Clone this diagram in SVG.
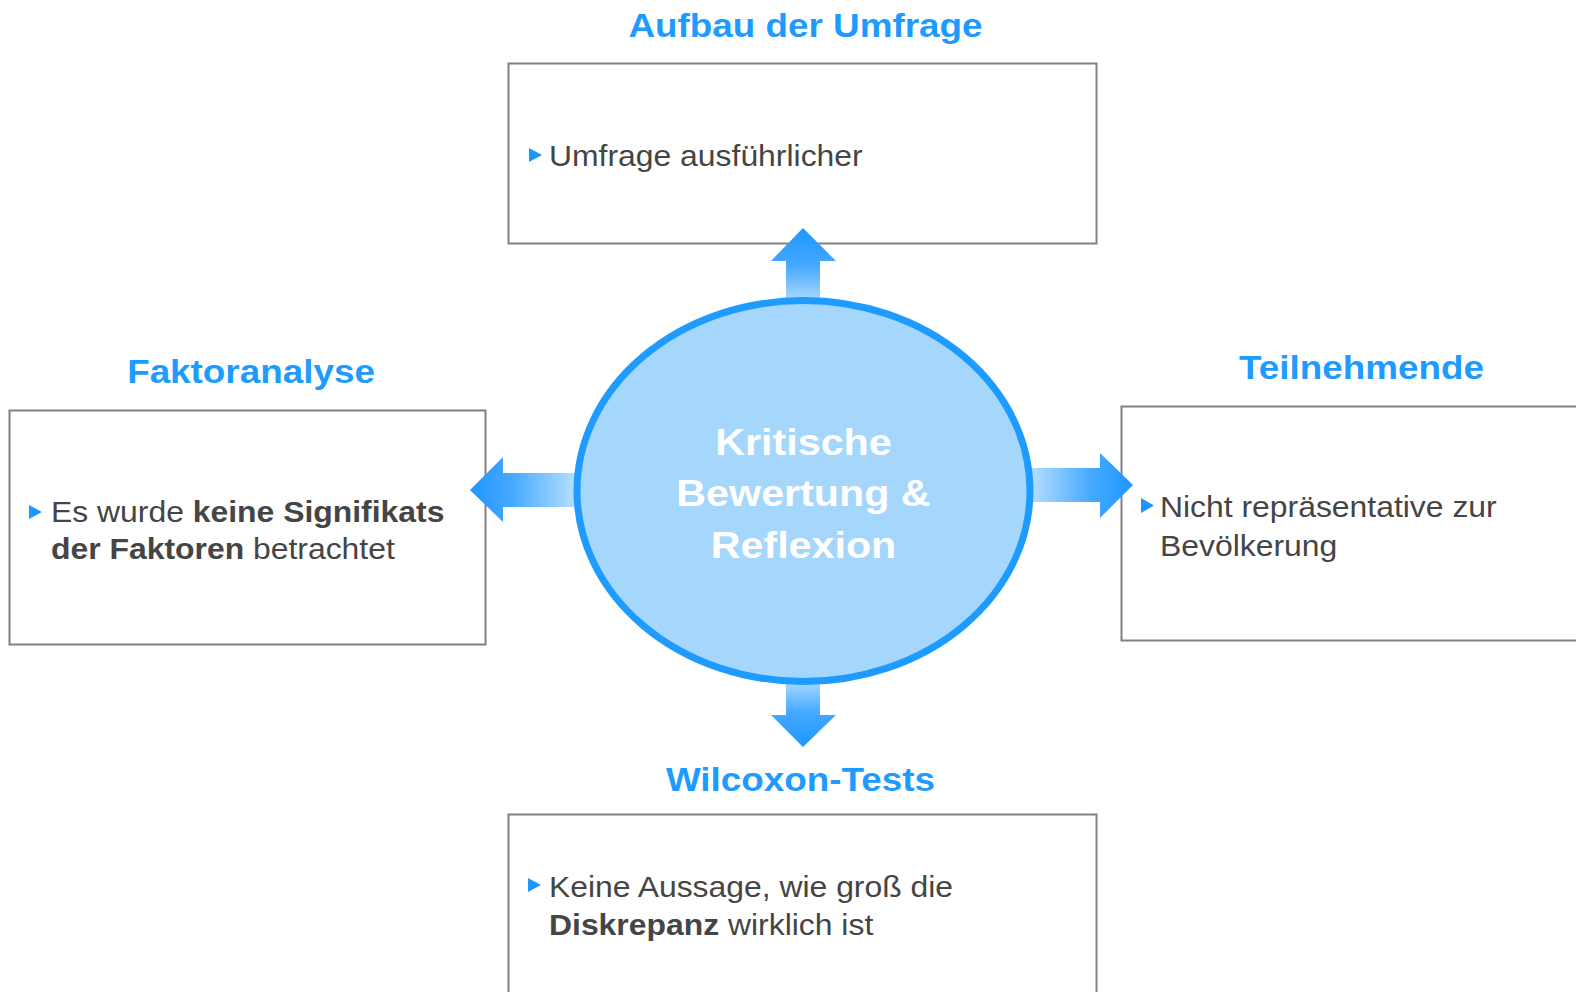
<svg xmlns="http://www.w3.org/2000/svg" width="1576" height="992" viewBox="0 0 1576 992">
<style>
.box{fill:#fff;stroke:#7f7f88;stroke-width:2}
.title{font-family:"Liberation Sans",Arial,sans-serif;font-weight:bold;font-size:33.5px;fill:#1e9bff;text-anchor:middle}
.body{font-family:"Liberation Sans",Arial,sans-serif;font-size:29px;fill:#454545}
.b{font-weight:bold}
.center{font-family:"Liberation Sans",Arial,sans-serif;font-weight:bold;font-size:37.5px;fill:#fff;text-anchor:middle}
.bullet{fill:#1e96ff}
</style>
<defs>
<linearGradient id="gUp" x1="0" y1="0" x2="0" y2="1"><stop offset="0" stop-color="#1e96ff"/><stop offset="0.45" stop-color="#45a9ff"/><stop offset="1" stop-color="#cde9ff"/></linearGradient>
<linearGradient id="gDown" x1="0" y1="1" x2="0" y2="0"><stop offset="0" stop-color="#1e96ff"/><stop offset="0.45" stop-color="#45a9ff"/><stop offset="1" stop-color="#cde9ff"/></linearGradient>
<linearGradient id="gLeft" x1="0" y1="0" x2="1" y2="0"><stop offset="0" stop-color="#1e96ff"/><stop offset="0.35" stop-color="#45a9ff"/><stop offset="1" stop-color="#d2ebff"/></linearGradient>
<linearGradient id="gRight" x1="1" y1="0" x2="0" y2="0"><stop offset="0" stop-color="#1e96ff"/><stop offset="0.35" stop-color="#45a9ff"/><stop offset="1" stop-color="#d2ebff"/></linearGradient>
</defs>
<rect width="1576" height="992" fill="#fff"/>

<g id="node-top">
<rect class="box" x="508.5" y="63.5" width="588" height="180"/>
<text class="title" transform="translate(805.5,37) scale(1.1,1)">Aufbau der Umfrage</text>
<polygon class="bullet" points="529,148 542,155 529,162"/>
<text class="body" transform="translate(549,166) scale(1.1,1)">Umfrage ausführlicher</text>
</g>

<g id="node-left">
<rect class="box" x="9.5" y="410.5" width="476" height="234"/>
<text class="title" transform="translate(251,383) scale(1.1,1)">Faktoranalyse</text>
<polygon class="bullet" points="29,505 42,512 29,519"/>
<text class="body" transform="translate(51,522) scale(1.1,1)">Es wurde <tspan class="b">keine Signifikats</tspan></text>
<text class="body" transform="translate(51,559) scale(1.1,1)"><tspan class="b">der Faktoren</tspan> betrachtet</text>
</g>

<g id="node-right">
<rect class="box" x="1121.5" y="406.5" width="470" height="234"/>
<text class="title" transform="translate(1361.5,379) scale(1.1,1)">Teilnehmende</text>
<polygon class="bullet" points="1141,498 1154,505.5 1141,513"/>
<text class="body" transform="translate(1160,517) scale(1.1,1)">Nicht repräsentative zur</text>
<text class="body" transform="translate(1160,556) scale(1.1,1)">Bevölkerung</text>
</g>

<g id="node-bottom">
<rect class="box" x="508.5" y="814.5" width="588" height="200"/>
<text class="title" transform="translate(800.5,791) scale(1.1,1)">Wilcoxon-Tests</text>
<polygon class="bullet" points="528,878 541,885 528,892"/>
<text class="body" transform="translate(549,897) scale(1.1,1)">Keine Aussage, wie groß die</text>
<text class="body" transform="translate(549,935) scale(1.1,1)"><tspan class="b">Diskrepanz</tspan> wirklich ist</text>
</g>

<g id="connectors">
<polygon fill="url(#gUp)" points="803,228 836,261 820,261 820,312 786,312 786,261 771,261"/>
<polygon fill="url(#gDown)" points="803,747 836,715 820,715 820,670 786,670 786,715 771,715"/>
<polygon fill="url(#gLeft)" points="470,490 503,457 503,473 590,473 590,507 503,507 503,522"/>
<polygon fill="url(#gRight)" points="1133,485 1100,453 1100,468 1015,468 1015,502 1100,502 1100,518"/>
</g>

<g id="node-center">
<ellipse cx="803.5" cy="491" rx="226.5" ry="190.5" fill="#a5d6fc" stroke="#1e9bff" stroke-width="7"/>
<text class="center" transform="translate(803.5,455) scale(1.1,1)">Kritische</text>
<text class="center" transform="translate(803.5,506) scale(1.1,1)">Bewertung &amp;</text>
<text class="center" transform="translate(803.5,558) scale(1.1,1)">Reflexion</text>
</g>
</svg>
